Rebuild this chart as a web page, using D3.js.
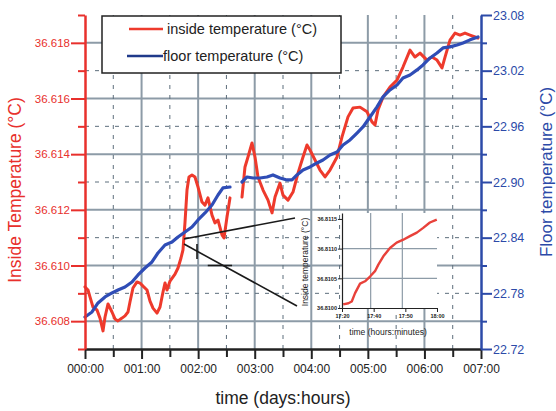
<!DOCTYPE html>
<html>
<head>
<meta charset="utf-8">
<script src="https://cdn.jsdelivr.net/npm/d3@7"></script>
<style>
  body { margin: 0; background: #fff; }
  svg { display: block; font-family: "Liberation Sans", Arial, sans-serif; }
</style>
</head>
<body>
<svg id="chart" width="556" height="411"></svg>
<script>
// time in days, inside temperature (left axis), floor temperature (right axis)
const insideSeg1 = [
  [0, 36.60923], [0.053, 36.60912], [0.088, 36.60887], [0.141, 36.60851], [0.212, 36.60840],
  [0.265, 36.60811], [0.318, 36.60765], [0.354, 36.60815], [0.407, 36.60862], [0.477, 36.60833],
  [0.530, 36.60808], [0.583, 36.60801], [0.654, 36.60811], [0.707, 36.60819], [0.760, 36.60833],
  [0.795, 36.60869], [0.848, 36.60919], [0.919, 36.60941], [0.972, 36.60937], [1.025, 36.60926],
  [1.096, 36.60912], [1.149, 36.60872], [1.202, 36.60847], [1.273, 36.60829], [1.326, 36.60851],
  [1.379, 36.60905], [1.414, 36.60937], [1.450, 36.60912], [1.503, 36.60944], [1.591, 36.60969],
  [1.644, 36.60991], [1.697, 36.61027], [1.732, 36.61056], [1.768, 36.61156], [1.803, 36.61271],
  [1.838, 36.61318], [1.891, 36.61325], [1.944, 36.61318], [1.998, 36.61282], [2.068, 36.61228],
  [2.121, 36.61217], [2.174, 36.61243], [2.245, 36.61181], [2.298, 36.61153], [2.351, 36.61163],
  [2.422, 36.61110], [2.457, 36.61099], [2.510, 36.61174], [2.563, 36.61243]
];
const insideSeg2 = [
  [2.775, 36.61246], [2.828, 36.61354], [2.881, 36.61390], [2.952, 36.61440], [3.005, 36.61390],
  [3.058, 36.61318], [3.147, 36.61271], [3.235, 36.61235], [3.306, 36.61189], [3.359, 36.61246],
  [3.447, 36.61296], [3.500, 36.61253], [3.588, 36.61235], [3.677, 36.61264], [3.765, 36.61332],
  [3.854, 36.61390], [3.924, 36.61433], [3.977, 36.61415], [4.066, 36.61379], [4.154, 36.61343],
  [4.243, 36.61318], [4.331, 36.61343], [4.455, 36.61390], [4.543, 36.61462], [4.649, 36.61534],
  [4.738, 36.61566], [4.861, 36.61569], [4.985, 36.61552], [5.073, 36.61516], [5.126, 36.61505],
  [5.179, 36.61559], [5.268, 36.61605], [5.391, 36.61641], [5.515, 36.61666], [5.621, 36.61713],
  [5.745, 36.61774], [5.833, 36.61749], [5.922, 36.61763], [6.045, 36.61738], [6.134, 36.61749],
  [6.222, 36.61738], [6.311, 36.61710], [6.364, 36.61749], [6.452, 36.61810], [6.541, 36.61835],
  [6.629, 36.61828], [6.717, 36.61835], [6.806, 36.61828], [6.894, 36.61821], [6.947, 36.61817]
];
const floorSeg1 = [
  [0, 22.7545], [0.124, 22.7599], [0.230, 22.7696], [0.354, 22.7761], [0.477, 22.7804],
  [0.583, 22.7836], [0.707, 22.7868], [0.831, 22.7922], [0.937, 22.7998], [1.061, 22.8073],
  [1.184, 22.8138], [1.290, 22.8235], [1.414, 22.8321], [1.538, 22.8353], [1.644, 22.8407],
  [1.768, 22.8461], [1.891, 22.8515], [1.998, 22.8591], [2.121, 22.8666], [2.245, 22.8752],
  [2.351, 22.8860], [2.439, 22.8936], [2.563, 22.8946]
];
const floorSeg2 = [
  [2.775, 22.9000], [2.864, 22.9054], [2.970, 22.9043], [3.094, 22.9043], [3.217, 22.9054],
  [3.323, 22.9076], [3.447, 22.9043], [3.571, 22.9022], [3.659, 22.9022], [3.747, 22.9076],
  [3.854, 22.9130], [3.977, 22.9162], [4.101, 22.9205], [4.207, 22.9237], [4.331, 22.9291],
  [4.455, 22.9324], [4.561, 22.9399], [4.685, 22.9453], [4.808, 22.9528], [4.914, 22.9593],
  [5.038, 22.9701], [5.162, 22.9809], [5.268, 22.9917], [5.391, 22.9992], [5.515, 23.0046],
  [5.621, 23.0121], [5.745, 23.0154], [5.869, 23.0208], [5.975, 23.0262], [6.099, 23.0337],
  [6.222, 23.0391], [6.328, 23.0445], [6.452, 23.0456], [6.576, 23.0477], [6.682, 23.0499],
  [6.806, 23.0532], [6.947, 23.0564]
];

// inset: minutes after 17:20
const insetSeries = [
  [0.5, 36.81006], [2.7, 36.81008], [4.1, 36.81011], [5.5, 36.81025], [7.6, 36.81041],
  [9.7, 36.81045], [11.8, 36.81053], [13.9, 36.81062], [15.3, 36.81073], [17.4, 36.81087],
  [20.2, 36.81101], [23.0, 36.81110], [25.8, 36.81115], [28.6, 36.81121], [31.5, 36.81127],
  [34.2, 36.81135], [37.0, 36.81144], [39.9, 36.81149]
];

const dayTicks = [0, 1, 2, 3, 4, 5, 6, 7];
const dayLabels = ['000:00', '001:00', '002:00', '003:00', '004:00', '005:00', '006:00', '007:00'];
const halfDayTicks = [0.5, 1.5, 2.5, 3.5, 4.5, 5.5, 6.5];
const insideTicks = [36.608, 36.610, 36.612, 36.614, 36.616, 36.618];
const insideMinor = [36.607, 36.609, 36.611, 36.613, 36.615, 36.617, 36.619];
const floorTicks = [22.72, 22.78, 22.84, 22.90, 22.96, 23.02, 23.08];
const floorMinor = [22.75, 22.81, 22.87, 22.93, 22.99, 23.05];
const insetXTicks = [0, 40 / 3, 80 / 3, 40];
const insetXLabels = ['17:20', '17:40', '17:50', '18:00'];
const insetYTicks = [36.8100, 36.8105, 36.8110, 36.8115];

const RED = '#e8302c', RED_LINE = '#ee3a2c', BLUE = '#2c4aa8', BLUE_LINE = '#2f4db6';

let svg = d3.select('#chart');

let x = d3.scaleLinear().domain([0, 7]).range([85, 481]);
let yL = d3.scaleLinear().domain([36.607, 36.619]).range([349, 15]);
let yR = d3.scaleLinear().domain([22.72, 23.08]).range([349, 15]);

// grid
let grid = svg.append('g');
grid.selectAll('.hs').data(insideTicks).enter().append('line')
  .attr('x1', 85).attr('x2', 481)
  .attr('y1', d => yL(d)).attr('y2', d => yL(d))
  .attr('stroke', '#8d9ba7').attr('stroke-width', 2);
grid.selectAll('.vs').data(dayTicks.slice(1, 7)).enter().append('line')
  .attr('x1', d => x(d)).attr('x2', d => x(d))
  .attr('y1', 15).attr('y2', 349)
  .attr('stroke', '#8d9ba7').attr('stroke-width', 2);
grid.selectAll('.hd').data(floorTicks.slice(1, 6)).enter().append('line')
  .attr('x1', 85).attr('x2', 481)
  .attr('y1', d => yR(d)).attr('y2', d => yR(d))
  .attr('stroke', '#5d6e7c').attr('stroke-width', 1).attr('stroke-dasharray', '4,6');
grid.selectAll('.vd').data(halfDayTicks).enter().append('line')
  .attr('x1', d => x(d)).attr('x2', d => x(d))
  .attr('y1', 15).attr('y2', 349)
  .attr('stroke', '#5d6e7c').attr('stroke-width', 1).attr('stroke-dasharray', '4,6');

// data lines
let lineL = d3.line().curve(d3.curveLinear).x(d => x(d[0])).y(d => yL(d[1]));
let lineR = d3.line().curve(d3.curveLinear).x(d => x(d[0])).y(d => yR(d[1]));

[insideSeg1, insideSeg2].forEach(seg => {
  svg.append('path').attr('d', lineL(seg))
    .attr('fill', 'none').attr('stroke', RED_LINE).attr('stroke-width', 3)
    .attr('stroke-linejoin', 'round').attr('stroke-linecap', 'round');
});
[floorSeg1, floorSeg2].forEach(seg => {
  svg.append('path').attr('d', lineR(seg))
    .attr('fill', 'none').attr('stroke', BLUE_LINE).attr('stroke-width', 3.2)
    .attr('stroke-linejoin', 'round').attr('stroke-linecap', 'round');
});

// zoom connector lines and leftover marks
let ann = svg.append('g').attr('stroke', '#1a1a1a').attr('stroke-width', 1.6);
ann.append('line').attr('x1', x(1.75)).attr('y1', yL(36.61095)).attr('x2', 295).attr('y2', 218);
ann.append('line').attr('x1', x(1.75)).attr('y1', yL(36.61077)).attr('x2', 297).attr('y2', 306);
ann.append('line').attr('x1', x(1.98)).attr('x2', x(1.98)).attr('y1', yL(36.61077)).attr('y2', yL(36.61023));
ann.append('line').attr('x1', x(2.17)).attr('x2', x(2.6)).attr('y1', yL(36.610)).attr('y2', yL(36.610));

// bottom axis
let xAxis = svg.append('g').attr('transform', 'translate(0,349)')
  .call(d3.axisBottom(x).tickValues(dayTicks).tickSize(10).tickSizeOuter(0)
    .tickFormat((d, i) => dayLabels[i]));
xAxis.select('.domain').attr('stroke', '#222').attr('stroke-width', 2.5);
xAxis.selectAll('.tick line').attr('stroke', '#222').attr('stroke-width', 2);
xAxis.selectAll('.tick text').attr('fill', '#222').style('font-size', '12px').attr('dy', '0.95em');
let xMinor = svg.append('g').attr('transform', 'translate(0,349)')
  .call(d3.axisBottom(x).tickValues(halfDayTicks).tickSize(8).tickFormat(''));
xMinor.select('.domain').remove();
xMinor.selectAll('.tick line').attr('stroke', '#222').attr('stroke-width', 2);

// left axis
let leftAxis = svg.append('g').attr('transform', 'translate(85,0)')
  .call(d3.axisLeft(yL).tickValues(insideTicks).tickSize(14).tickSizeOuter(0)
    .tickPadding(1).tickFormat(d3.format('.3f')));
leftAxis.select('.domain').attr('stroke', RED).attr('stroke-width', 2.5);
leftAxis.selectAll('.tick line').attr('stroke', RED).attr('stroke-width', 2);
leftAxis.selectAll('.tick text').attr('fill', RED).style('font-size', '11.5px');
let leftMinor = svg.append('g').attr('transform', 'translate(85,0)')
  .call(d3.axisLeft(yL).tickValues(insideMinor).tickSize(7).tickFormat(''));
leftMinor.select('.domain').remove();
leftMinor.selectAll('.tick line').attr('stroke', RED).attr('stroke-width', 2);

// right axis
let rightAxis = svg.append('g').attr('transform', 'translate(481,0)')
  .call(d3.axisRight(yR).tickValues(floorTicks).tickSize(11).tickSizeOuter(0)
    .tickPadding(1).tickFormat(d3.format('.2f')));
rightAxis.select('.domain').attr('stroke', BLUE).attr('stroke-width', 2.5);
rightAxis.selectAll('.tick line').attr('stroke', BLUE).attr('stroke-width', 2);
rightAxis.selectAll('.tick text').attr('fill', BLUE).style('font-size', '12.5px');
let rightMinor = svg.append('g').attr('transform', 'translate(481,0)')
  .call(d3.axisRight(yR).tickValues(floorMinor).tickSize(6).tickFormat(''));
rightMinor.select('.domain').remove();
rightMinor.selectAll('.tick line').attr('stroke', BLUE).attr('stroke-width', 2);

// axis titles
svg.append('text').attr('x', 283).attr('y', 404).attr('text-anchor', 'middle')
  .style('font-size', '17.5px').attr('fill', '#222').text('time (days:hours)');
svg.append('text').attr('transform', 'translate(21,190) rotate(-90)').attr('text-anchor', 'middle')
  .style('font-size', '17.5px').attr('fill', RED).text('Inside Temperature (°C)');
svg.append('text').attr('transform', 'translate(552,172) rotate(-90)').attr('text-anchor', 'middle')
  .style('font-size', '17px').attr('fill', BLUE).text('Floor temperature (°C)');

// legend
let legend = svg.append('g');
legend.append('rect').attr('x', 102).attr('y', 16).attr('width', 239).attr('height', 57)
  .attr('fill', '#fff').attr('stroke', '#222').attr('stroke-width', 1.5);
legend.append('line').attr('x1', 129).attr('x2', 163).attr('y1', 29).attr('y2', 29)
  .attr('stroke', RED_LINE).attr('stroke-width', 2.5);
legend.append('line').attr('x1', 127).attr('x2', 163).attr('y1', 56).attr('y2', 56)
  .attr('stroke', '#1f3a8a').attr('stroke-width', 2.5);
legend.append('text').attr('x', 167).attr('y', 34).style('font-size', '14.5px').attr('fill', '#222')
  .text('inside temperature (°C)');
legend.append('text').attr('x', 163).attr('y', 61).style('font-size', '14.5px').attr('fill', '#222')
  .text('floor temperature (°C)');

// inset
let ix = d3.scaleLinear().domain([0, 40]).range([342, 437]);
let iy = d3.scaleLinear().domain([36.8100, 36.8116]).range([308, 213]);
let inset = svg.append('g');
inset.append('rect').attr('x', 342).attr('y', 213).attr('width', 95).attr('height', 95).attr('fill', '#fff');
inset.selectAll('.ig').data(insetYTicks.slice(1, 3)).enter().append('line')
  .attr('x1', 342).attr('x2', 437).attr('y1', d => iy(d)).attr('y2', d => iy(d))
  .attr('stroke', '#8d9ba7').attr('stroke-width', 1.2);
inset.selectAll('.igx').data(insetXTicks.slice(1, 3)).enter().append('line')
  .attr('x1', d => ix(d) - 3).attr('x2', d => ix(d) - 3).attr('y1', 213).attr('y2', 308)
  .attr('stroke', '#8d9ba7').attr('stroke-width', 1.2);
inset.append('path').attr('d', d3.line().x(d => ix(d[0])).y(d => iy(d[1]))(insetSeries))
  .attr('fill', 'none').attr('stroke', '#e8413a').attr('stroke-width', 2.4)
  .attr('stroke-linejoin', 'round');

let iyAxis = inset.append('g').attr('transform', 'translate(342,0)')
  .call(d3.axisLeft(iy).tickValues(insetYTicks).tickSize(4).tickSizeOuter(0).tickPadding(1)
    .tickFormat(d3.format('.4f')));
iyAxis.select('.domain').attr('stroke', '#222').attr('stroke-width', 1.2);
iyAxis.selectAll('.tick line').attr('stroke', '#222');
iyAxis.selectAll('.tick text').attr('fill', '#222').style('font-size', '5.5px').style('font-weight', 'bold');
let ixAxis = inset.append('g').attr('transform', 'translate(0,308)')
  .call(d3.axisBottom(ix).tickValues(insetXTicks).tickSize(4).tickSizeOuter(0).tickPadding(2)
    .tickFormat((d, i) => insetXLabels[i]));
ixAxis.select('.domain').attr('stroke', '#222').attr('stroke-width', 1.2);
ixAxis.selectAll('.tick line').attr('stroke', '#222');
ixAxis.selectAll('.tick text').attr('fill', '#222').style('font-size', '5.5px').style('font-weight', 'bold');

inset.append('text').attr('x', 388).attr('y', 335).attr('text-anchor', 'middle')
  .style('font-size', '8.5px').attr('fill', '#222').text('time (hours:minutes)');
inset.append('text').attr('transform', 'translate(308,262) rotate(-90)').attr('text-anchor', 'middle')
  .style('font-size', '8.5px').attr('fill', '#222').text('Inside temperature (°C)');
</script>
</body>
</html>
